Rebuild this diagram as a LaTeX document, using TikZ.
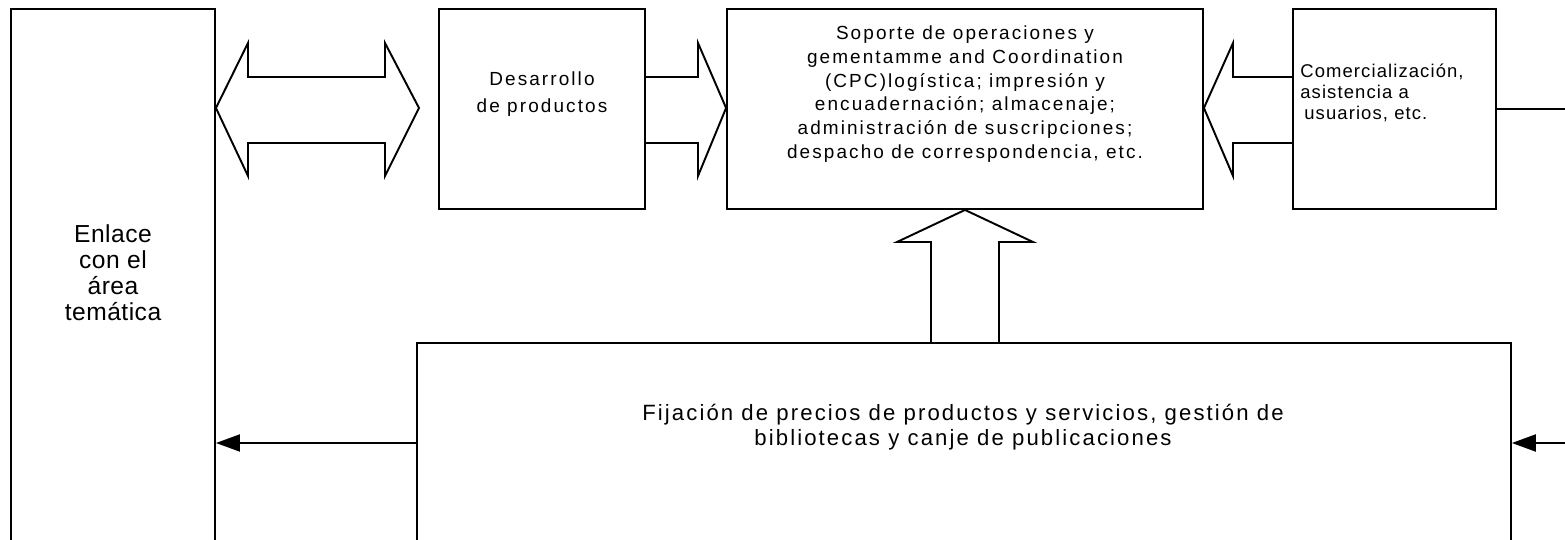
\documentclass[tikz,border=0pt]{standalone}
\usepackage{fontspec}
\setmainfont{Liberation Sans}
\newfontfamily\cajafont[LetterSpace=11]{Liberation Sans}
\newfontfamily\comfont[LetterSpace=6]{Liberation Sans}
\newfontfamily\enlacefont[LetterSpace=2]{Liberation Sans}
\newfontfamily\fijafont[LetterSpace=9.5]{Liberation Sans}
\usetikzlibrary{arrows.meta}
\usetikzlibrary{positioning}
\tikzset{caja/.style = {draw, line width=1.1pt, rectangle, inner sep=0pt}}
\tikzset{bloque/.style = {draw, line width=1.1pt, line join=miter}}
\tikzset{flecha/.style = {line width=1.1pt, -{Triangle[length=0.48cm,width=0.34cm]}}}
\tikzset{texto/.style = {align=center, inner sep=0pt}}

\begin{document}
\begin{tikzpicture}[x=0.02cm, y=-0.02cm]
        \useasboundingbox (0,0) rectangle (1565,540);
        \clip (0,0) rectangle (1565,540);
        \node[caja, minimum width=4.08cm, minimum height=11.02cm] (enlace) at (113,284.5) {};
        \node[caja, minimum width=4.12cm, minimum height=4cm] (desarrollo) at (542,109) {};
        \node[caja, minimum width=9.52cm, minimum height=4cm] (soporte) at (965,109) {};
        \node[caja, minimum width=4.06cm, minimum height=4cm] (comercial) at (1394.5,109) {};
        \node[caja, minimum width=21.88cm, minimum height=5.14cm] (fijacion) at (964,471.5) {};
        \node[texto, font=\enlacefont\fontsize{14}{14.7}\selectfont] (enlacetxt) at (113,272.5) {Enlace\\ con el\\ área\\ temática};
        \node[texto, font=\cajafont\fontsize{10.8}{15.7}\selectfont] (desarrollotxt) at (542,94) {Desarrollo\\ de productos};
        \node[texto, font=\cajafont\fontsize{10.8}{13.5}\selectfont] (soportetxt) at (965,94) {Soporte de operaciones y\\ gementamme and Coordination\\ (CPC)logística; impresión y\\ encuadernación; almacenaje;\\ administración de suscripciones;\\ despacho de correspondencia, etc.};
        \node[texto, align=left, anchor=west, font=\comfont\fontsize{10.5}{11.8}\selectfont] (comercialtxt) at (1300,93) {Comercialización,\\ asistencia a\\ \hspace*{0.08cm}usuarios, etc.};
        \node[texto, font=\fijafont\fontsize{12.6}{14.3}\selectfont] (fijaciontxt) at (963,427) {Fijación de precios de productos y servicios, gestión de\\ bibliotecas y canje de publicaciones};
        \draw[bloque] (enlace.east |- 0,108) -- (248,43) -- (248,77) -- (385,77) -- (385,43) -- (419,108) -- (385,176) -- (385,143) -- (248,143) -- (248,176) -- cycle;
        \draw[bloque] (desarrollo.east |- 0,77) -- (698,77) -- (698,43) -- (soporte.west |- 0,108) -- (698,176) -- (698,143) -- (desarrollo.east |- 0,143);
        \draw[bloque] (comercial.west |- 0,77) -- (1233,77) -- (1233,43) -- (soporte.east |- 0,108) -- (1233,176) -- (1233,143) -- (comercial.west |- 0,143);
        \draw[bloque] (931,0 |- fijacion.north) -- (931,242) -- (897,242) -- (soporte.south) -- (1033,242) -- (999,242) -- (999,0 |- fijacion.north);
        \coordinate (salida) at (1565,109);
        \coordinate (entrada) at (1565,443);
        \draw[line width=1.1pt] (comercial.east) -- (salida);
        \draw[flecha] (entrada) -- (entrada -| fijacion.east);
        \draw[flecha] (fijacion.west |- entrada) -- (entrada -| enlace.east);
    \end{tikzpicture}
\end{document}
